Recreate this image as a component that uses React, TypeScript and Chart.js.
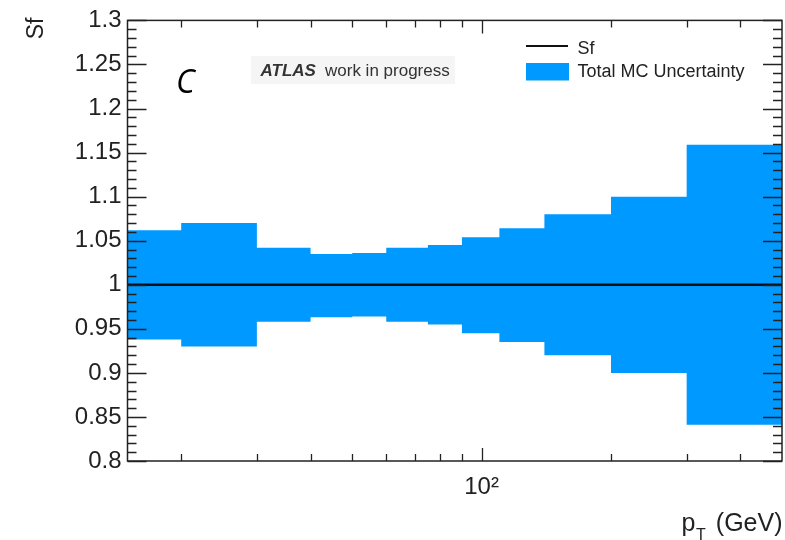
import React, { useEffect, useRef } from "react";
import { Chart, registerables } from "chart.js";

Chart.register(...registerables);

// ---- data ----
const binEdges = [15, 20, 30, 40, 50, 60, 75, 90, 110, 140, 200, 300, 500];
const sfValues = [1, 1, 1, 1, 1, 1, 1, 1, 1, 1, 1, 1];
const uncUp = [0.062, 0.07, 0.042, 0.035, 0.036, 0.042, 0.045, 0.054, 0.064, 0.08, 0.1, 0.159];
const uncDown = [0.062, 0.07, 0.042, 0.037, 0.036, 0.042, 0.045, 0.055, 0.065, 0.08, 0.1, 0.159];
const yTicks = [0.8, 0.85, 0.9, 0.95, 1.0, 1.05, 1.1, 1.15, 1.2, 1.25, 1.3];
const xMinorTicks = [20, 30, 40, 50, 60, 70, 80, 90, 200, 300, 400];
const xMajorTicks = [100];
const xTickLabels: Record<number, string> = { 100: "10²" };
const legendLabels = ["Sf", "Total MC Uncertainty"];

const BLUE = "rgb(0,153,255)";
const FONT = "'Liberation Sans', Arial, sans-serif";
const TXT = "#222";

function stepPoints(vals: number[]) {
  const pts = vals.map((v, i) => ({ x: binEdges[i], y: v }));
  pts.push({ x: binEdges[binEdges.length - 1], y: vals[vals.length - 1] });
  return pts;
}

const decorPlugin = {
  id: "decor",
  afterDatasetsDraw(chart: any) {
    const { ctx, chartArea: a, scales } = chart;
    const xs = scales.x, ys = scales.y;
    ctx.save();
    ctx.strokeStyle = "#222";
    ctx.lineWidth = 1.3;
    // y ticks (inside) on left and right
    for (let k = 80; k <= 130; k++) {
      const v = k / 100;
      const y = Math.round(ys.getPixelForValue(v)) + 0.5;
      const len = k % 5 === 0 ? 19 : 9;
      ctx.beginPath();
      ctx.moveTo(a.left, y);
      ctx.lineTo(a.left + len, y);
      ctx.moveTo(a.right, y);
      ctx.lineTo(a.right - len, y);
      ctx.stroke();
    }
    const xt = [
      ...xMinorTicks.map((v) => ({ v, len: 7 })),
      ...xMajorTicks.map((v) => ({ v, len: 13 })),
    ];
    for (const t of xt) {
      const x = Math.round(xs.getPixelForValue(t.v)) + 0.5;
      ctx.beginPath();
      ctx.moveTo(x, a.bottom);
      ctx.lineTo(x, a.bottom - t.len);
      ctx.moveTo(x, a.top);
      ctx.lineTo(x, a.top + t.len);
      ctx.stroke();
    }
    // frame
    ctx.lineWidth = 1.5;
    ctx.strokeRect(a.left, a.top, a.right - a.left, a.bottom - a.top);
    ctx.restore();
  },
  afterDraw(chart: any) {
    const { ctx } = chart;
    ctx.save();
    ctx.fillStyle = TXT;
    ctx.textBaseline = "alphabetic";
    // y title
    ctx.save();
    ctx.translate(43, 17.5);
    ctx.rotate(-Math.PI / 2);
    ctx.textAlign = "right";
    ctx.font = `23px ${FONT}`;
    ctx.fillText("Sf", 0, 0);
    ctx.restore();
    // x title
    ctx.textAlign = "left";
    ctx.font = `25px ${FONT}`;
    ctx.fillText("p", 681.5, 530.5);
    ctx.font = `16px ${FONT}`;
    ctx.fillText("T", 696, 539.5);
    ctx.textAlign = "right";
    ctx.font = `25px ${FONT}`;
    ctx.fillText("(GeV)", 782.5, 530.5);
    // C label
    ctx.textAlign = "left";
    ctx.fillStyle = "#000";
    ctx.font = `italic 32px 'Open Sans', ${FONT}`;
    ctx.fillText("C", 176, 92.5);
    // ATLAS box
    ctx.fillStyle = "#f5f5f5";
    ctx.fillRect(251, 56, 204, 28);
    ctx.fillStyle = "#333";
    ctx.font = `italic bold 17px ${FONT}`;
    ctx.fillText("ATLAS", 260.5, 75.7);
    ctx.font = `17px ${FONT}`;
    ctx.fillText("work in progress", 325, 75.7);
    // legend
    ctx.strokeStyle = "#111";
    ctx.lineWidth = 2.2;
    ctx.beginPath();
    ctx.moveTo(526, 46);
    ctx.lineTo(568, 46);
    ctx.stroke();
    ctx.fillStyle = BLUE;
    ctx.fillRect(526, 63, 43, 17.5);
    ctx.fillStyle = TXT;
    ctx.font = `18px ${FONT}`;
    ctx.fillText(legendLabels[0], 577.5, 54.3);
    ctx.fillText(legendLabels[1], 577.5, 76.6);
    ctx.restore();
  },
};

export default function App() {
  const ref = useRef<HTMLCanvasElement | null>(null);
  useEffect(() => {
    if (!ref.current) return;
    const chart = new Chart(ref.current, {
      type: "line",
      data: {
        datasets: [
          {
            label: "up",
            data: stepPoints(uncUp.map((u, i) => sfValues[i] + u)),
            stepped: true,
            borderWidth: 0,
            pointRadius: 0,
            fill: false,
            borderColor: BLUE,
            backgroundColor: BLUE,
            order: 2,
          },
          {
            label: "Total MC Uncertainty",
            data: stepPoints(uncDown.map((d, i) => sfValues[i] - d)),
            stepped: true,
            borderWidth: 0,
            pointRadius: 0,
            fill: "-1",
            borderColor: BLUE,
            backgroundColor: BLUE,
            order: 1,
          },
          {
            label: "Sf",
            data: stepPoints(sfValues),
            stepped: true,
            borderWidth: 2.5,
            pointRadius: 0,
            fill: false,
            borderColor: "#111",
            order: 0,
          },
        ],
      },
      options: {
        responsive: false,
        animation: false,
        layout: { padding: { top: 16, right: 3, left: 0, bottom: 0 } },
        plugins: { legend: { display: false }, tooltip: { enabled: false } },
        scales: {
          x: {
            type: "logarithmic",
            min: binEdges[0],
            max: binEdges[binEdges.length - 1],
            grid: { display: false, drawTicks: false },
            border: { display: false },
            afterBuildTicks: (s: any) => {
              s.ticks = [...xMinorTicks, ...xMajorTicks].sort((a, b) => a - b).map((v) => ({ value: v }));
            },
            afterFit: (s: any) => {
              s.height = 79;
            },
            ticks: {
              autoSkip: false,
              maxRotation: 0,
              padding: 12,
              color: TXT,
              font: { size: 24, family: FONT },
              callback: (v: any) => xTickLabels[Number(v)] ?? "",
            },
          },
          y: {
            type: "linear",
            min: 0.8,
            max: 1.3,
            grid: { display: false, drawTicks: false },
            border: { display: false },
            afterBuildTicks: (s: any) => {
              s.ticks = yTicks.map((v) => ({ value: v }));
            },
            afterFit: (s: any) => {
              s.width = 127.5;
            },
            ticks: {
              padding: 6,
              color: TXT,
              font: { size: 24, family: FONT },
              callback: (v: any) => String(Number(Number(v).toFixed(2))),
            },
          },
        },
      },
      plugins: [decorPlugin],
    });
    return () => chart.destroy();
  }, []);
  return (
    <div style={{ position: "absolute", left: 0, top: 0, width: 785, height: 540, background: "#fff" }}>
      <canvas ref={ref} width={785} height={540} />
    </div>
  );
}
